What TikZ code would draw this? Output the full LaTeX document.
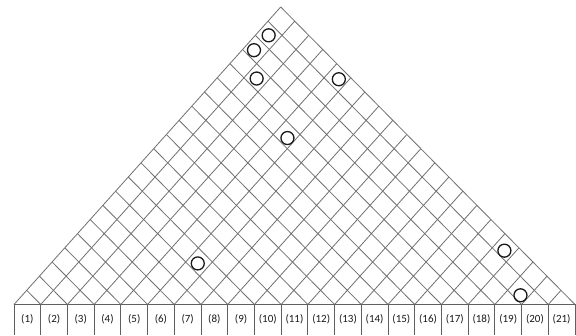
\documentclass[tikz,border=0pt]{standalone}
\usepackage{fontspec}
\setmainfont{Carlito}
\definecolor{GridLine}{HTML}{707070}
\definecolor{BoxLine}{HTML}{606060}
\definecolor{Ink}{HTML}{1A1A1A}
\tikzset{gridline/.style={draw=GridLine,line width=0.8pt},boxline/.style={draw=BoxLine,line width=0.8pt},marker/.style={draw=Ink,line width=1.3pt},numlabel/.style={font=\fontsize{11}{13}\selectfont,text=Ink,inner sep=0pt}}

\begin{document}
\begin{tikzpicture}[x=1pt,y=1pt]
\useasboundingbox (0,0) rectangle (576,335);
\fill[white] (0,0) rectangle (576,335);
% triangle of cells, counted along its two sides
\begin{scope}[shift={(14,30.5)},x={(12.700pt,14.167pt)},y={(14.014pt,-14.167pt)}]
\foreach \k in {0,...,21}{\draw[gridline] (\k,0)--(\k,\k);\draw[gridline] (\k,\k)--(21,\k);}
\foreach \p/\q in {19.5/0.5,18.4/0.45,17.45/1.5,20.5/4.6,16.4/4.65,8.4/5.5,20.35/16.55,19.3/18.65}{\draw[marker] (\p,\q) circle (6.5pt);}
\end{scope}
% numbered row under the base
\draw[boxline] (14,0)--(14,30.5)--(575,30.5)--(575,0);
\foreach \k in {1,...,20}{\draw[boxline] ({14+26.714*\k},0)--++(0,30.5);}
\foreach \k in {1,...,21}{\node[numlabel] (lab\k) at ({14+26.714*(\k-0.5)},16) {(\k)};}
\end{tikzpicture}
\end{document}
